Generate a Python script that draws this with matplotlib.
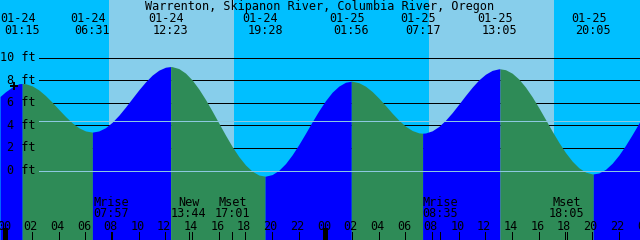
import numpy as np
import matplotlib.pyplot as plt
from matplotlib import transforms

# Station
title = "Warrenton, Skipanon River, Columbia River, Oregon"

# Tide extremes (date, time, height ft)
ext_dates = ["01-24", "01-24", "01-24", "01-24", "01-25", "01-25", "01-25", "01-25"]
ext_times = ["01:15", "06:31", "12:23", "19:28", "01:56", "07:17", "13:05", "20:05"]
ext_heights = [7.7, 3.4, 9.2, -0.5, 7.9, 3.3, 9.0, -0.3]

# Tide curve every half hour, hours from 01-24 00:00
curve_hours = [-0.41] + [i / 2 for i in range(0, 96)] + [47.59]
curve_heights = [6.55,
                 6.97, 7.38, 7.68, 7.68, 7.49, 7.13, 6.63, 6.04, 5.40, 4.78,
                 4.22, 3.78, 3.50, 3.40, 3.50, 3.79, 4.27, 4.89, 5.61, 6.38,
                 7.14, 7.84, 8.44, 8.88, 9.14, 9.19, 9.02, 8.62, 8.01, 7.21,
                 6.28, 5.26, 4.19, 3.13, 2.12, 1.23, 0.49, -0.06, -0.40, -0.50,
                 -0.36, 0.02, 0.61, 1.39, 2.30, 3.29, 4.31, 5.29, 6.18, 6.93,
                 7.47, 7.81, 7.90, 7.77, 7.46, 6.99, 6.40, 5.75, 5.07, 4.45,
                 3.92, 3.54, 3.33, 3.32, 3.51, 3.90, 4.45, 5.12, 5.87, 6.64,
                 7.37, 8.02, 8.52, 8.86, 9.00, 8.92, 8.61, 8.09, 7.38, 6.52,
                 5.55, 4.52, 3.48, 2.49, 1.59, 0.83, 0.24, -0.14, -0.30, -0.22,
                 0.10, 0.64, 1.36, 2.22, 3.18, 4.18,
                 4.36]

# Sun (daylight spans, hours)
sunrise = [7.76, 31.76]
sunset = [17.14, 41.14]

# Moon events
moon_names = ["Mrise", "New", "Mset", "Mrise", "Mset"]
moon_times = ["07:57", "13:44", "17:01", "08:35", "18:05"]
moon_day = [0, 0, 0, 1, 1]

# Axis levels
ft_levels = [0, 2, 4, 6, 8, 10]
mean_level = 4.42
now_hour, now_height = 0.64, 7.52


def to_hours(date, hm):
    day = int(date[3:]) - 24
    return day * 24 + int(hm[:2]) + int(hm[3:]) / 60


ext_hours = [to_hours(d, t) for d, t in zip(ext_dates, ext_times)]
moon_hours = [d * 24 + int(t[:2]) + int(t[3:]) / 60 for d, t in zip(moon_day, moon_times)]

NIGHT = "#00BFFF"
DAY = "#87CEEB"
RISE = "#0000FF"
FALL = "#2E8B57"
LIGHT = "#8CC8E0"
LW = 0.6

fig = plt.figure(figsize=(6.4, 2.4), dpi=100)
ax = fig.add_axes([0, 0, 1, 1])
ax.set_axis_off()
ax.set_xlim(-5.5 / 13.3333, 634.5 / 13.3333)
ax.set_ylim(-69.5 / 11.3, 10 + 57.5 / 11.3)
ax.axvspan(-5, 60, color=NIGHT, lw=0, zorder=0)
for a, b in zip(sunrise, sunset):
    ax.axvspan(a, b, color=DAY, lw=0, zorder=0)

# grid lines behind the water
x0 = 39 / 640
for lv in ft_levels[1:]:
    ax.axhline(lv, xmin=x0, xmax=1, color="black", lw=LW, antialiased=False, zorder=1)

# water, coloured by rising / falling
t = np.array(curve_hours + ext_hours, dtype=float)
h = np.array(curve_heights + ext_heights, dtype=float)
order = np.argsort(t)
t, h = t[order], h[order]
bounds = [t[0]] + sorted(ext_hours) + [t[-1]]
for a, b in zip(bounds[:-1], bounds[1:]):
    m = (t >= a) & (t <= b)
    rising = h[m][-1] > h[m][0]
    ax.fill_between(t[m], h[m], -10, color=RISE if rising else FALL,
                    lw=0, antialiased=False, zorder=2)

# datum and mean lines over the water
ax.axhline(0, xmin=x0, xmax=1, color=LIGHT, lw=LW, antialiased=False, zorder=3)
ax.axhline(mean_level, xmin=x0, xmax=1, color=LIGHT, lw=LW, antialiased=False, zorder=3)

font = dict(family="DejaVu Sans Mono", size=8.5, color="black")
yb = transforms.blended_transform_factory(ax.transData, fig.transFigure)


def row(r):
    return 1 - r / 240


# y labels
ylab_tr = transforms.blended_transform_factory(fig.transFigure, ax.transData)
for lv in ft_levels:
    ax.text(35.5 / 640, lv, f"{lv} ft", transform=ylab_tr,
            ha="right", va="center", zorder=5, **font)

ax.plot([now_hour], [now_height], marker="+", ms=6, mew=1.4, color="black", zorder=5)

# title and extremes
fig.text(0.5, row(10), title, ha="center", va="baseline", **font)
date_tr = transforms.offset_copy(yb, fig=fig, x=-4.5, units="dots")
for x, d, tm in zip(ext_hours, ext_dates, ext_times):
    ax.text(x, row(21.5), d, transform=date_tr, ha="center", va="baseline", zorder=5, **font)
    ax.text(x, row(34), tm, transform=yb, ha="center", va="baseline", zorder=5, **font)

# hour ticks and labels
lab_tr = transforms.offset_copy(yb, fig=fig, x=-1.5, units="dots")
for hr in range(0, 50, 2):
    thick = hr % 24 == 0
    ax.plot([hr, hr], [row(230 if thick else 232), 0], transform=yb, color="black",
            lw=2.2 if thick else LW, antialiased=False, zorder=5, clip_on=False)
    ax.text(hr, row(230), f"{hr % 24:02d}", transform=lab_tr, ha="center", va="baseline",
            zorder=5, **font)

# moon events
for x, name, tm in zip(moon_hours, moon_names, moon_times):
    ax.plot([x, x], [row(232), 0], transform=yb, color="black", lw=LW,
            antialiased=False, zorder=5)
    ax.text(x, row(206), name, transform=yb, ha="center", va="baseline", zorder=5, **font)
    ax.text(x, row(217.3), tm, transform=yb, ha="center", va="baseline", zorder=5, **font)

fig.savefig("out.png", dpi=100)
